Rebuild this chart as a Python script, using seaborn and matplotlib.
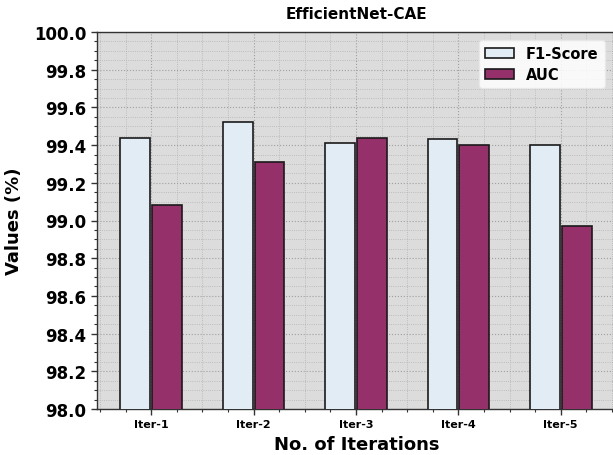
import matplotlib
matplotlib.use("Agg")
import matplotlib.pyplot as plt
from matplotlib.ticker import MultipleLocator, FormatStrFormatter
import seaborn as sns
import pandas as pd

iterations = ["Iter-1", "Iter-2", "Iter-3", "Iter-4", "Iter-5"]
f1_score = [99.44, 99.52, 99.41, 99.43, 99.40]
auc = [99.08, 99.31, 99.44, 99.40, 98.97]

df = pd.DataFrame({
    "Iteration": iterations * 2,
    "Value": f1_score + auc,
    "Metric": ["F1-Score"] * len(iterations) + ["AUC"] * len(iterations),
})

sns.set_style("white")
plt.rcParams["font.family"] = ["DejaVu Sans"]
plt.rcParams["text.color"] = "black"
plt.rcParams["axes.labelcolor"] = "black"
plt.rcParams["xtick.color"] = "black"
plt.rcParams["ytick.color"] = "black"

fig = plt.figure(figsize=(6.13, 4.56), dpi=100)
ax = fig.add_axes([97 / 613, 1 - 410 / 456, (616 - 97) / 613, (410 - 33) / 456])
ax.set_facecolor("#dcdcdc")

sns.barplot(
    data=df, x="Iteration", y="Value", hue="Metric",
    palette={"F1-Score": "#e1ecf5", "AUC": "#95306b"}, saturation=1,
    width=0.62, gap=0.06, edgecolor="#1a1a1a", linewidth=1.2,
    ax=ax, zorder=3,
)

ax.set_xlim(-0.53, 4.54)
ax.yaxis.set_major_locator(MultipleLocator(0.2))
ax.yaxis.set_minor_locator(MultipleLocator(0.05))
ax.yaxis.set_major_formatter(FormatStrFormatter("%.1f"))
ax.xaxis.set_minor_locator(MultipleLocator(0.25))
ax.set_ylim(98.0, 100.0)

ax.grid(which="major", linestyle=":", color="#a0a0a0", linewidth=0.8, zorder=0)
ax.grid(which="minor", linestyle=":", color="#b2b2b2", linewidth=0.6, zorder=0)
ax.set_axisbelow(True)

ax.tick_params(axis="both", which="both", bottom=True, left=True, top=False, right=False)
ax.tick_params(axis="both", which="major", direction="out", length=4, width=1, color="#333333")
ax.tick_params(axis="both", which="minor", direction="out", length=2.5, width=0.8, color="#333333")
ax.tick_params(axis="y", labelsize=12)
ax.tick_params(axis="x", labelsize=8)
for lbl in ax.get_yticklabels() + ax.get_xticklabels():
    lbl.set_fontweight("bold")

for side in ["left", "bottom", "top", "right"]:
    ax.spines[side].set_color("#333333")
    ax.spines[side].set_linewidth(1.0)

ax.set_title("EfficientNet-CAE", fontsize=11, fontweight="bold", pad=10)
ax.set_xlabel("No. of Iterations", fontsize=13, fontweight="bold", labelpad=4)
ax.set_ylabel("Values (%)", fontsize=13, fontweight="bold", labelpad=8)

leg = ax.legend(loc="upper right", bbox_to_anchor=(0.978, 0.978), borderaxespad=0,
                prop={"weight": "bold", "size": 10.5}, frameon=True, fancybox=True,
                framealpha=0.85, edgecolor="#e8e8e8", handlelength=2.0,
                labelspacing=0.4)
leg.get_frame().set_facecolor("white")

fig.savefig("out.png", dpi=100)
